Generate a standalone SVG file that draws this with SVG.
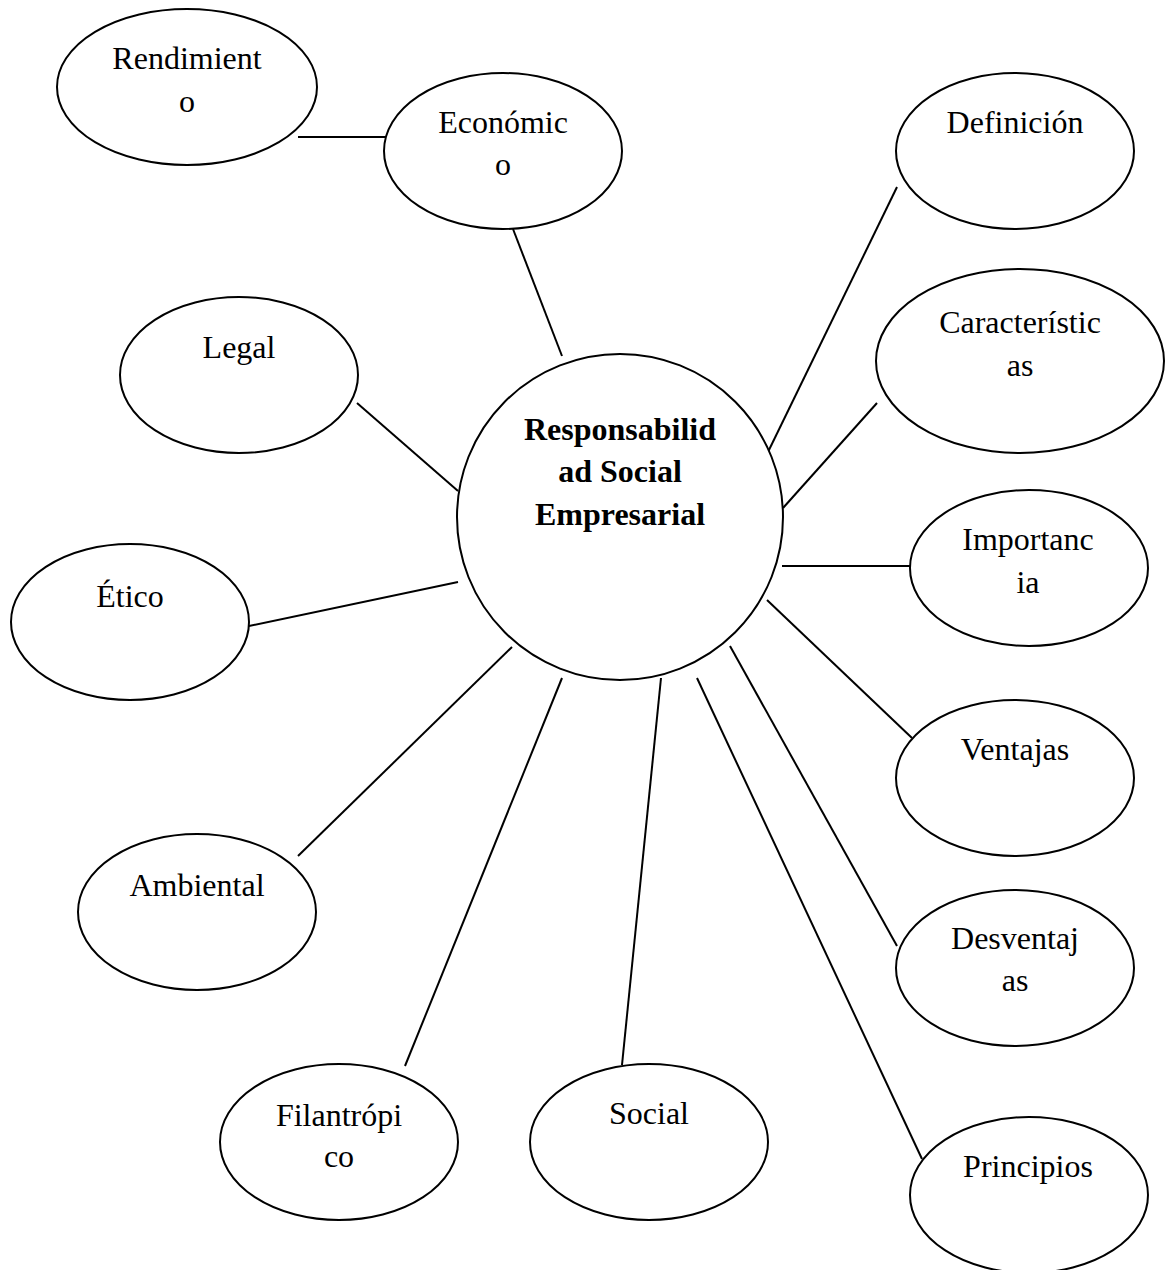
<svg xmlns="http://www.w3.org/2000/svg" width="1168" height="1270" viewBox="0 0 1168 1270">
  <style>
    .node { fill: #ffffff; stroke: #000000; stroke-width: 2; }
    .edge { stroke: #000000; stroke-width: 2; fill: none; }
    .lbl { font-family: "Liberation Serif", "Times New Roman", serif; font-size: 32px; fill: #000000; text-anchor: middle; }
    .hub { font-weight: bold; }
  </style>
  <rect width="1168" height="1270" fill="#ffffff"/>

  <!-- connectors from the hub and between Rendimiento and Económico -->
  <g id="connectors">
    <line class="edge" x1="298" y1="137" x2="390" y2="137"/>
    <line class="edge" x1="513" y1="229" x2="562" y2="356"/>
    <line class="edge" x1="897" y1="187" x2="768" y2="452"/>
    <line class="edge" x1="877" y1="403" x2="783" y2="508"/>
    <line class="edge" x1="357" y1="403" x2="458" y2="491"/>
    <line class="edge" x1="782" y1="566" x2="910" y2="566"/>
    <line class="edge" x1="249" y1="626" x2="458" y2="582"/>
    <line class="edge" x1="767" y1="600" x2="912" y2="738"/>
    <line class="edge" x1="298" y1="856" x2="512" y2="647"/>
    <line class="edge" x1="730" y1="646" x2="897" y2="946"/>
    <line class="edge" x1="405" y1="1066" x2="562" y2="678"/>
    <line class="edge" x1="622" y1="1065" x2="661" y2="678"/>
    <line class="edge" x1="697" y1="678" x2="922" y2="1159"/>
  </g>

  <g id="node-rendimiento">
    <ellipse class="node" cx="187" cy="87" rx="130" ry="78"/>
    <text class="lbl" x="187" y="69">Rendimient</text>
    <text class="lbl" x="187" y="112">o</text>
  </g>
  <g id="node-economico">
    <ellipse class="node" cx="503" cy="151" rx="119" ry="78"/>
    <text class="lbl" x="503" y="133">Económic</text>
    <text class="lbl" x="503" y="175">o</text>
  </g>
  <g id="node-definicion">
    <ellipse class="node" cx="1015" cy="151" rx="119" ry="78"/>
    <text class="lbl" x="1015" y="133">Definición</text>
  </g>
  <g id="node-caracteristicas">
    <ellipse class="node" cx="1020" cy="361" rx="144" ry="92"/>
    <text class="lbl" x="1020" y="333">Característic</text>
    <text class="lbl" x="1020" y="376">as</text>
  </g>
  <g id="node-legal">
    <ellipse class="node" cx="239" cy="375" rx="119" ry="78"/>
    <text class="lbl" x="239" y="358">Legal</text>
  </g>
  <g id="node-rse">
    <circle class="node" cx="620" cy="517" r="163"/>
    <text class="lbl hub" x="620" y="440">Responsabilid</text>
    <text class="lbl hub" x="620" y="482">ad Social</text>
    <text class="lbl hub" x="620" y="525">Empresarial</text>
  </g>
  <g id="node-importancia">
    <ellipse class="node" cx="1029" cy="568" rx="119" ry="78"/>
    <text class="lbl" x="1028" y="550">Importanc</text>
    <text class="lbl" x="1028" y="593">ia</text>
  </g>
  <g id="node-etico">
    <ellipse class="node" cx="130" cy="622" rx="119" ry="78"/>
    <text class="lbl" x="130" y="607">Ético</text>
  </g>
  <g id="node-ventajas">
    <ellipse class="node" cx="1015" cy="778" rx="119" ry="78"/>
    <text class="lbl" x="1015" y="760">Ventajas</text>
  </g>
  <g id="node-ambiental">
    <ellipse class="node" cx="197" cy="912" rx="119" ry="78"/>
    <text class="lbl" x="197" y="896">Ambiental</text>
  </g>
  <g id="node-desventajas">
    <ellipse class="node" cx="1015" cy="968" rx="119" ry="78"/>
    <text class="lbl" x="1015" y="949">Desventaj</text>
    <text class="lbl" x="1015" y="991">as</text>
  </g>
  <g id="node-filantropico">
    <ellipse class="node" cx="339" cy="1142" rx="119" ry="78"/>
    <text class="lbl" x="339" y="1126">Filantrópi</text>
    <text class="lbl" x="339" y="1167">co</text>
  </g>
  <g id="node-social">
    <ellipse class="node" cx="649" cy="1142" rx="119" ry="78"/>
    <text class="lbl" x="649" y="1124">Social</text>
  </g>
  <g id="node-principios">
    <ellipse class="node" cx="1029" cy="1195" rx="119" ry="78"/>
    <text class="lbl" x="1028" y="1177">Principios</text>
  </g>
</svg>
